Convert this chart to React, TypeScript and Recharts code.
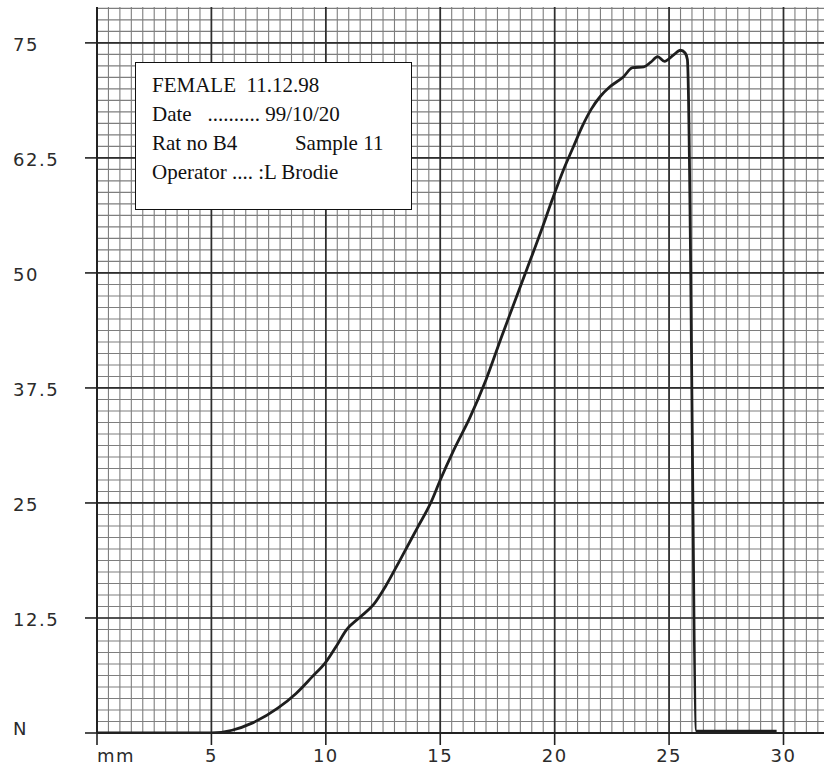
import { Line, LineChart, ReferenceLine, XAxis, YAxis } from "recharts";

// pen trace: extension (mm) vs force (N)
const extensionMm = [
  0, 5.0, 5.9, 6.8, 7.9, 8.7, 9.4, 10.0, 10.5, 10.9, 11.5, 12.1, 12.6, 13.2, 14.0,
  14.6, 15.0, 15.6, 16.3, 17.0, 17.7, 18.8, 19.4, 19.9, 20.4, 20.8, 21.2, 21.6,
  22.0, 22.4, 23.0, 23.4, 23.9, 24.2, 24.5, 24.8, 25.2, 25.5, 25.7, 25.8, 26.2, 29.7,
];
const forceN = [
  0, 0, 0.3, 1.1, 2.7, 4.3, 6.1, 7.7, 9.6, 11.2, 12.6, 14.0, 15.9, 18.6, 22.3,
  25.1, 27.5, 30.8, 34.3, 38.4, 43.2, 50.5, 54.5, 58.0, 61.3, 63.6, 65.9, 67.8,
  69.2, 70.2, 71.3, 72.3, 72.4, 72.9, 73.5, 73.0, 73.7, 74.2, 73.9, 73.2, 0.2, 0.2,
];

const xTicks = [0, 5, 10, 15, 20, 25, 30];
const xTickLabels = ["mm", "5", "10", "15", "20", "25", "30"];
const yTicks = [0, 12.5, 25, 37.5, 50, 62.5, 75];
const yTickLabels = ["N", "12.5", "25", "37.5", "50", "62.5", "75"];

// chart paper: 0.5 mm by 1.25 N squares
const xMinor = Array.from({ length: 64 }, (_, i) => i * 0.5);
const yMinor = Array.from({ length: 64 }, (_, i) => i * 1.25);

const infoLines = [
  "FEMALE  11.12.98",
  "Date   .......... 99/10/20",
  "Rat no B4           Sample 11",
  "Operator .... :L Brodie",
];

const data = extensionMm.map((mm, i) => ({ mm, n: forceN[i] }));

const labelFont = {
  fontFamily: "'DejaVu Sans', sans-serif",
  fontSize: 18,
  fill: "#2b2b2b",
  letterSpacing: 1.5,
} as const;

function YTick({ y, payload }: any) {
  const i = yTicks.indexOf(payload.value);
  return (
    <text x={13} y={y + (i === 0 ? -5 : 2)} dominantBaseline="central" {...labelFont}>
      {yTickLabels[i]}
    </text>
  );
}

function XTick({ x, y, payload }: any) {
  const i = xTicks.indexOf(payload.value);
  return (
    <text x={x} y={y + 15} textAnchor={i === 0 ? "start" : "middle"} {...labelFont}>
      {xTickLabels[i]}
    </text>
  );
}

export default function App() {
  return (
    <div style={{ position: "absolute", left: 0, top: 0, width: 824, height: 769, background: "#fff" }}>
      <LineChart width={824} height={769} data={data} margin={{ top: 7, right: 0, bottom: 0, left: 0 }}>
        <XAxis
          type="number"
          dataKey="mm"
          domain={[0, 31.77]}
          ticks={xTicks}
          height={36}
          tickSize={12}
          tickLine={{ stroke: "#222", strokeWidth: 1.6 }}
          axisLine={{ stroke: "#222", strokeWidth: 2 }}
          tick={<XTick />}
          allowDataOverflow
        />
        <YAxis
          type="number"
          dataKey="n"
          domain={[0, 78.9]}
          ticks={yTicks}
          width={97}
          tickSize={12}
          tickLine={{ stroke: "#222", strokeWidth: 1.6 }}
          axisLine={{ stroke: "#222", strokeWidth: 2 }}
          tick={<YTick />}
          allowDataOverflow
        />
        {xMinor.map((v) => (
          <ReferenceLine key={`vx${v}`} x={v} stroke="#7e7e7e" strokeWidth={1.1} />
        ))}
        {yMinor.map((v) => (
          <ReferenceLine key={`hy${v}`} y={v} stroke="#7e7e7e" strokeWidth={1.1} />
        ))}
        {xTicks.map((v) => (
          <ReferenceLine key={`VX${v}`} x={v} stroke="#2e2e2e" strokeWidth={1.7} />
        ))}
        {yTicks.map((v) => (
          <ReferenceLine key={`HY${v}`} y={v} stroke="#2e2e2e" strokeWidth={1.7} />
        ))}
        <Line
          type="monotone"
          dataKey="n"
          stroke="#1e1e1e"
          strokeWidth={2.8}
          dot={false}
          isAnimationActive={false}
        />
      </LineChart>
      <div
        style={{
          position: "absolute",
          left: 135,
          top: 62,
          width: 277,
          height: 148,
          boxSizing: "border-box",
          border: "1.5px solid #111",
          background: "#fff",
          padding: "8px 0 0 16px",
          fontFamily: "'Liberation Serif', 'Times New Roman', serif",
          fontSize: 21,
          lineHeight: "29px",
          color: "#111",
          whiteSpace: "pre",
          overflow: "hidden",
        }}
      >
        {infoLines.map((t) => (
          <div key={t}>{t}</div>
        ))}
      </div>
    </div>
  );
}
